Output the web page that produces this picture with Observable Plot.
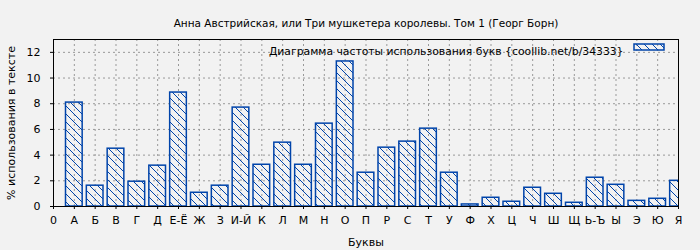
<!DOCTYPE html>
<html>
<head>
<meta charset="utf-8">
<script src="https://cdn.jsdelivr.net/npm/d3@7"></script>
<script src="https://cdn.jsdelivr.net/npm/@observablehq/plot@0.6"></script>
<style>
  html, body { margin: 0; padding: 0; background: #f2f2f2; }
  #chart svg { display: block; }
</style>
</head>
<body>
<div id="chart"></div>
<script>
const title = "Анна Австрийская, или Три мушкетера королевы. Том 1 (Георг Борн)";
const legendLabel = "Диаграмма частоты использования букв {coollib.net/b/34333}";
const xLabel = "Буквы";
const yLabel = "% использования в тексте";
const letters = ["А","Б","В","Г","Д","Е-Ё","Ж","З","И-Й","К","Л","М","Н","О","П","Р","С","Т","У","Ф","Х","Ц","Ч","Ш","Щ","Ь-Ъ","Ы","Э","Ю","Я"];
const tickLabels = ["0", ...letters];
const values = [8.09,1.62,4.5,1.93,3.18,8.87,1.07,1.62,7.7,3.25,4.97,3.25,6.45,11.29,2.63,4.58,5.05,6.06,2.63,0.16,0.68,0.37,1.46,0.99,0.29,2.24,1.69,0.44,0.6,2.0];
const yTicks = [0,2,4,6,8,10,12];

const data = letters.map((l, k) => ({letter: l, i: k + 1, v: values[k]}));
const blue = "#0044aa";
const font = "DejaVu Sans, sans-serif";

const chart = Plot.plot({
  width: 700,
  height: 250,
  marginLeft: 53,
  marginRight: 22,
  marginTop: 39,
  marginBottom: 44,
  style: {background: "#f2f2f2", fontFamily: font, fontSize: "10.5px", color: "#000"},
  x: {domain: [0, 30], ticks: d3.range(0, 31), tickFormat: d => tickLabels[d]},
  y: {domain: [0, 13]},
  marks: [
    Plot.gridX(d3.range(1, 30), {stroke: "#999", strokeOpacity: 1, strokeDasharray: "2,3"}),
    Plot.gridY(yTicks.slice(1), {stroke: "#999", strokeOpacity: 1, strokeDasharray: "2,3"}),
    Plot.rect(data, {x1: d => d.i - 0.4, x2: d => d.i + 0.4, y1: 0, y2: "v", fill: "url(#hatch)", stroke: blue, strokeWidth: 1.5, clip: true}),
    Plot.axisX({ticks: d3.range(0, 31), tickFormat: d => tickLabels[d], tickSize: 3, tickPadding: 7, label: xLabel, labelAnchor: "center", labelOffset: 39, labelArrow: "none", fontSize: 11}),
    Plot.axisY({ticks: yTicks, tickSize: 3, tickPadding: 10, label: yLabel, labelAnchor: "center", labelOffset: 46, labelArrow: "none", fontSize: 11}),
    Plot.frame({stroke: "#000", strokeWidth: 1}),
    Plot.text([title], {frameAnchor: "top", dy: -20, fontSize: 10.5, fill: "#000"}),
    Plot.text([legendLabel], {frameAnchor: "top-right", dx: -55, dy: 8, textAnchor: "end", fontSize: 10.8, fill: "#000"})
  ]
});

const svg = d3.select(chart);
const defs = svg.insert("defs", ":first-child");
const pat = defs.append("pattern")
  .attr("id", "hatch")
  .attr("patternUnits", "userSpaceOnUse")
  .attr("width", 8).attr("height", 8);
pat.append("path")
  .attr("d", "M0,0L8,8M-1,7L1,9M7,-1L9,1")
  .attr("stroke", blue).attr("stroke-width", 1).attr("fill", "none");

// legend swatch (top-right, next to the legend text)
const fx = 700 - 22;
svg.append("rect")
  .attr("x", fx - 44).attr("y", 39 + 5)
  .attr("width", 30).attr("height", 6)
  .attr("fill", "url(#hatch)").attr("stroke", blue).attr("stroke-width", 1.5);

document.getElementById("chart").append(chart);
</script>
</body>
</html>
